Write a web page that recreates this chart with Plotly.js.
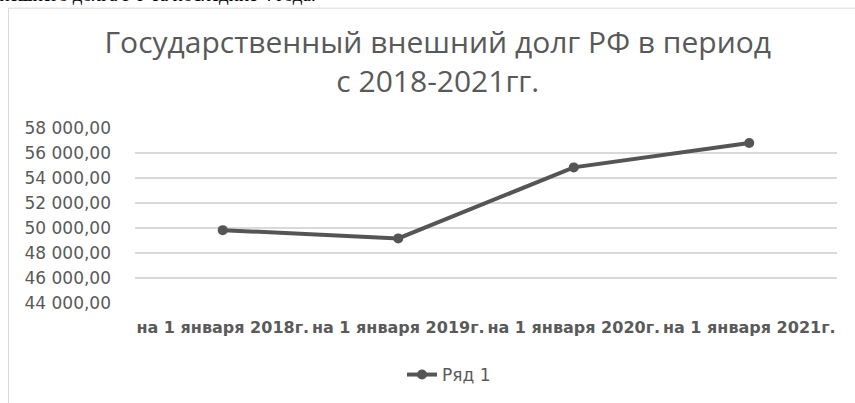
<!DOCTYPE html>
<html>
<head>
<meta charset="utf-8">
<script src="https://cdn.plot.ly/plotly-3.0.1.min.js"></script>
<style>html,body{margin:0;padding:0;background:#fff;}#chart{width:855px;height:403px;}</style>
</head>
<body>
<div id="chart"></div>
<script>
const categories = ["на 1 января 2018г.", "на 1 января 2019г.", "на 1 января 2020г.", "на 1 января 2021г."];
const debtValues = [49830, 49170, 54850, 56800];
const seriesName = "Ряд 1";
const yTickValues = [44000, 46000, 48000, 50000, 52000, 54000, 56000, 58000];
const titleText = "Государственный внешний долг РФ в период<br>с 2018-2021гг.";
const topSnippet = "ственного внешнего долга РФ за последние 4 года.";

const W = 855, H = 403;
const plotL = 135, plotR = 837, plotT = 128, plotB = 304;
const px2x = p => (p - plotL) / (plotR - plotL);
const py2y = p => (plotB - p) / (plotB - plotT);

const trace = {
  type: "scatter",
  mode: "lines+markers",
  x: categories,
  y: debtValues,
  name: seriesName,
  line: {color: "#555555", width: 4},
  marker: {color: "#555555", size: 10},
  cliponaxis: false
};

const layout = {
  width: W, height: H,
  margin: {l: plotL, r: W - plotR, t: plotT, b: H - plotB, pad: 0},
  paper_bgcolor: "#ffffff",
  plot_bgcolor: "#ffffff",
  separators: ", ",
  title: {
    text: titleText,
    font: {family: "Open Sans", size: 30, color: "#595959"},
    x: 0.512, xref: "container", xanchor: "center",
    y: 1 - 53 / H, yref: "container", yanchor: "top"
  },
  xaxis: {
    type: "category",
    range: [-0.5, 3.5],
    showgrid: false, zeroline: false, showline: false,
    ticks: "", tickangle: 0,
    tickfont: {family: "DejaVu Sans", size: 16, weight: "bold", color: "#5a5a5a"},
    ticklabelstandoff: 13,
    fixedrange: true
  },
  yaxis: {
    range: [44000, 58000],
    tickvals: yTickValues,
    tickformat: ",.2f",
    showgrid: true, gridcolor: "#d9d9d9", gridwidth: 1.5,
    zeroline: false, showline: false, ticks: "",
    tickfont: {family: "DejaVu Sans", size: 17, color: "#595959"},
    ticklabelstandoff: 23,
    fixedrange: true
  },
  showlegend: true,
  legend: {
    orientation: "h",
    x: px2x(449), xanchor: "center",
    y: py2y(375), yanchor: "middle",
    font: {family: "DejaVu Sans", size: 17, color: "#595959"},
    bgcolor: "rgba(0,0,0,0)"
  },
  shapes: [{
    type: "rect", xref: "paper", yref: "paper",
    x0: px2x(8.5), x1: px2x(900), y0: py2y(450), y1: py2y(7.5),
    line: {color: "#d9d9d9", width: 1}, fillcolor: "rgba(0,0,0,0)", layer: "below"
  }],
  annotations: [{
    text: topSnippet, showarrow: false,
    xref: "paper", yref: "paper",
    x: px2x(318), xanchor: "right",
    y: py2y(6), yanchor: "bottom",
    font: {family: "Liberation Serif", size: 19, color: "#000000"}
  }]
};

Plotly.newPlot("chart", [trace], layout, {displayModeBar: false, staticPlot: true});
</script>
</body>
</html>
